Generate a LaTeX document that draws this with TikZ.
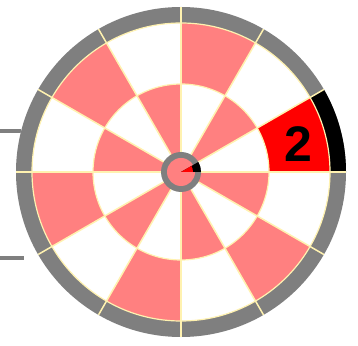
\documentclass[tikz,border=0pt]{standalone}
\usepackage{fontspec}
\setmainfont{Liberation Sans}
\definecolor{pinkseg}{HTML}{FF8080}
\definecolor{ringgray}{HTML}{7F7F7F}
\definecolor{sepline}{HTML}{FFF2B0}
\definecolor{hotred}{HTML}{FF0000}
\tikzset{
  leadline/.style={ringgray,line width=4pt},
  sepstroke/.style={sepline,line width=1.5pt},
  numlabel/.style={font=\fontsize{50}{50}\selectfont\bfseries,text=black,inner sep=0pt}
}
\begin{document}
\begin{tikzpicture}[x=1pt,y=1pt]
\useasboundingbox (0,0) rectangle (358,345);
\fill[white] (0,0) rectangle (358,345);
% lead lines on the left
\coordinate (l1a) at (0,214);
\coordinate (l1b) at (21,214);
\coordinate (l2a) at (0,87);
\coordinate (l2b) at (24,87);
\draw[leadline] (l1a) -- (l1b);
\draw[leadline] (l2a) -- (l2b);
\begin{scope}[shift={(181,173)}]
  \fill[white] (0,0) circle[radius=165pt];
  \foreach \i in {0,...,11}{
    \pgfmathsetmacro\a{30*\i}
    \pgfmathsetmacro\b{30*\i+30}
    \pgfmathtruncatemacro\odd{mod(\i,2)}
    \ifnum\odd=0
      \fill[pinkseg] (\a:88pt) arc[start angle=\a,end angle=\b,radius=88pt]
        -- (\b:149pt) arc[start angle=\b,end angle=\a,radius=149pt] -- cycle;
    \else
      \fill[pinkseg] (\a:18pt) arc[start angle=\a,end angle=\b,radius=18pt]
        -- (\b:88pt) arc[start angle=\b,end angle=\a,radius=88pt] -- cycle;
    \fi
  }
  % outer ring
  \fill[ringgray,even odd rule] (0,0) circle[radius=165pt] (0,0) circle[radius=149pt];
  % highlighted sector
  \fill[hotred] (0:88pt) arc[start angle=0,end angle=30,radius=88pt]
    -- (30:149pt) arc[start angle=30,end angle=0,radius=149pt] -- cycle;
  \fill[black] (0:149pt) arc[start angle=0,end angle=30,radius=149pt]
    -- (30:165pt) arc[start angle=30,end angle=0,radius=165pt] -- cycle;
  % separators
  \foreach \a in {0,30,...,330}{
    \draw[sepstroke] (\a:20pt) -- (\a:165pt);
  }
  \draw[sepline,line width=1.2pt] (0,0) circle[radius=88pt];
  \draw[sepline,line width=1.2pt] (0,0) circle[radius=149pt];
  % bull
  \fill[ringgray] (0,0) circle[radius=20pt];
  \fill[pinkseg] (0,0) circle[radius=14pt];
  \fill[black] (0,0) -- (0:20pt) arc[start angle=0,end angle=30,radius=20pt] -- cycle;
  \fill[hotred] (0,0) -- (0:12pt) arc[start angle=0,end angle=30,radius=12pt] -- cycle;
  \node[numlabel] (two) at (117,28) {2};
\end{scope}
\end{tikzpicture}
\end{document}
